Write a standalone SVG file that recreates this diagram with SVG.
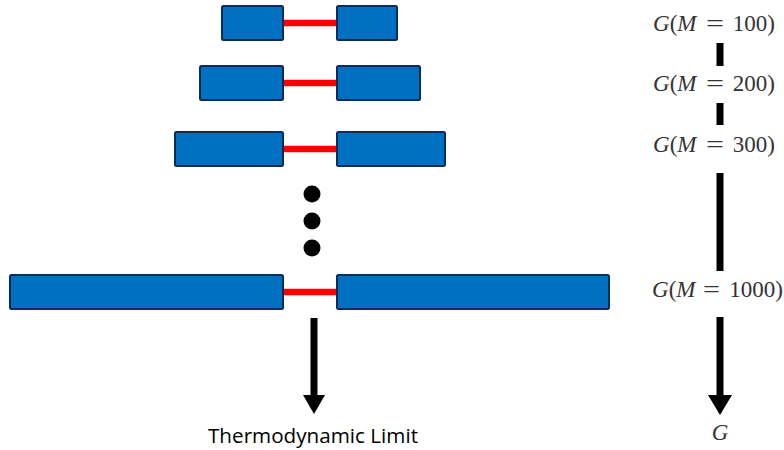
<svg xmlns="http://www.w3.org/2000/svg" width="784" height="450" viewBox="0 0 784 450">
<defs>
<style>
.box{fill:#0070C0;stroke:#0B2A5E;stroke-width:2}
.bond{stroke:#FF0000;stroke-width:6.5}
.bar{stroke:#000;stroke-width:7}
.math{font-family:"Liberation Serif","DejaVu Serif",serif;font-size:23px;fill:#333}
.it{font-style:italic}
.mid{text-anchor:middle}
.end{text-anchor:end}
.lbl{font-family:"Open Sans","Liberation Sans",sans-serif;font-size:20px;fill:#000}
</style>
</defs>
<rect width="784" height="450" fill="#fff"/>
<g id="chain100">
<line class="bond" x1="283" y1="23" x2="337" y2="23"/>
<rect class="box" x="222" y="6" width="61" height="34" rx="1.5"/>
<rect class="box" x="337" y="6" width="60" height="34" rx="1.5"/>
</g>
<g id="chain200">
<line class="bond" x1="283" y1="83" x2="337" y2="83"/>
<rect class="box" x="200" y="66" width="83" height="34" rx="1.5"/>
<rect class="box" x="337" y="66" width="83" height="34" rx="1.5"/>
</g>
<g id="chain300">
<line class="bond" x1="283" y1="149" x2="337" y2="149"/>
<rect class="box" x="175" y="132" width="108" height="34" rx="1.5"/>
<rect class="box" x="337" y="132" width="108" height="34" rx="1.5"/>
</g>
<g id="dots">
<circle cx="312" cy="194" r="8.5"/>
<circle cx="312" cy="221" r="8.5"/>
<circle cx="312" cy="248" r="8.5"/>
</g>
<g id="chain1000">
<line class="bond" x1="283" y1="292" x2="337" y2="292"/>
<rect class="box" x="10" y="275" width="273" height="34" rx="1.5"/>
<rect class="box" x="337" y="275" width="272" height="34" rx="1.5"/>
</g>
<g id="connectors">
<line class="bar" x1="720" y1="43" x2="720" y2="66"/>
<line class="bar" x1="720" y1="103" x2="720" y2="125"/>
<line class="bar" x1="720" y1="173" x2="720" y2="271"/>
<line class="bar" x1="720" y1="317" x2="720" y2="397"/>
<polygon points="708,395 732,395 720,415"/>
<line class="bar" x1="314" y1="318" x2="314" y2="397"/>
<polygon points="303,395 325,395 314,414"/>
</g>
<g id="label100" class="math">
<text x="653" y="31"><tspan class="it">G</tspan>(<tspan class="it">M</tspan></text>
<text x="706" y="31" textLength="18" lengthAdjust="spacingAndGlyphs">=</text>
<text class="end" x="775" y="31">100)</text>
</g>
<g id="label200" class="math">
<text x="653" y="91"><tspan class="it">G</tspan>(<tspan class="it">M</tspan></text>
<text x="706" y="91" textLength="18" lengthAdjust="spacingAndGlyphs">=</text>
<text class="end" x="775" y="91">200)</text>
</g>
<g id="label300" class="math">
<text x="653" y="152"><tspan class="it">G</tspan>(<tspan class="it">M</tspan></text>
<text x="706" y="152" textLength="18" lengthAdjust="spacingAndGlyphs">=</text>
<text class="end" x="775" y="152">300)</text>
</g>
<g id="label1000" class="math">
<text x="652" y="297"><tspan class="it">G</tspan>(<tspan class="it">M</tspan></text>
<text x="703" y="297" textLength="17" lengthAdjust="spacingAndGlyphs">=</text>
<text class="end" x="783" y="297">1000)</text>
</g>
<g id="labelG" class="math">
<text class="it mid" x="720" y="440">G</text>
</g>
<g id="labelTL">
<text class="lbl" x="313" y="443" text-anchor="middle" textLength="210" lengthAdjust="spacingAndGlyphs">Thermodynamic Limit</text>
</g>
</svg>
